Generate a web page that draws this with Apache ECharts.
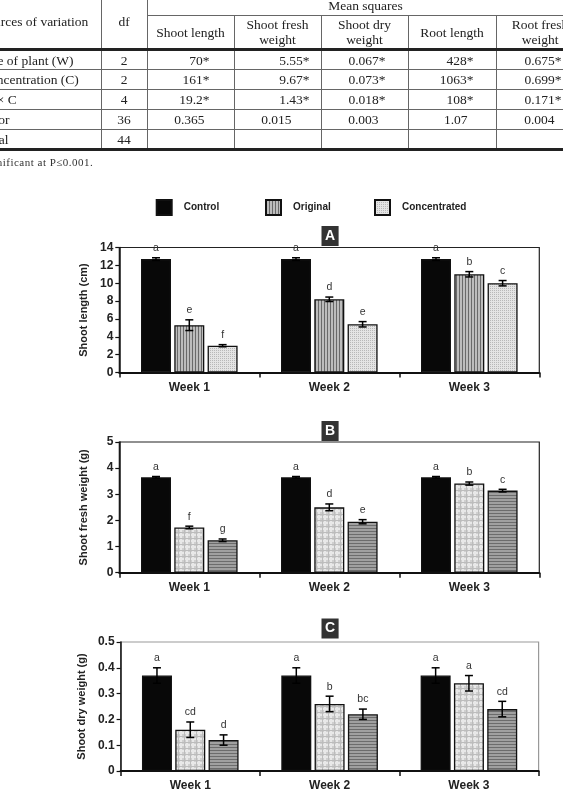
<!DOCTYPE html>
<html><head><meta charset="utf-8">
<script src="https://cdn.jsdelivr.net/npm/echarts@6/dist/echarts.min.js"></script>
<style>
html,body{margin:0;padding:0;background:#fff;width:563px;height:799px;overflow:hidden;position:relative;}
#chart{position:absolute;left:0;top:0;width:563px;height:799px;}
#tbl{position:absolute;left:-33.5px;top:-6px;width:617px;border-collapse:collapse;table-layout:fixed;font-family:"Liberation Serif","DejaVu Serif",serif;font-size:13.5px;color:#222;line-height:15px;}
#tbl td,#tbl th{border:1px solid #666;padding:0;font-weight:normal;overflow:hidden;white-space:nowrap;}
#tbl th{text-align:center;}
#tbl .hb{border-bottom:3px solid #222;}
#tbl tr.last td{border-bottom:3px solid #222;}
#tbl td.src{text-align:left;padding-left:13.5px;}
#tbl td.df{text-align:center;}
#tbl td.num{text-align:right;}
#note{position:absolute;left:-25.5px;top:156px;font-family:"Liberation Serif","DejaVu Serif",serif;font-size:11px;letter-spacing:0.5px;color:#333;white-space:nowrap;}
</style>
</head><body>
<div id="chart"></div>
<table id="tbl"></table>
<div id="note">*Significant at P≤0.001.</div>
<script>
// ---------- table data ----------
var tblSources = ["Age of plant (W)", "Concentration (C)", "W × C", "Error", "Total"];
var tblDf = ["2", "2", "4", "36", "44"];
var tblShootLength = ["70*", "161*", "19.2*", "0.365", ""];
var tblShootFresh = ["5.55*", "9.67*", "1.43*", "0.015", ""];
var tblShootDry = ["0.067*", "0.073*", "0.018*", "0.003", ""];
var tblRootLength = ["428*", "1063*", "108*", "1.07", ""];
var tblRootFresh = ["0.675*", "0.699*", "0.171*", "0.004", ""];
var tblHeaders = ["Shoot length", "Shoot fresh<br>weight", "Shoot dry<br>weight", "Root length", "Root fresh<br>weight"];

// ---------- chart data ----------
var categories = ["Week 1", "Week 2", "Week 3"];
var seriesNames = ["Control", "Original", "Concentrated"];

var lenControl = [12.7, 12.7, 12.7];
var lenOriginal = [5.3, 8.2, 11.0];
var lenConc = [3.0, 5.4, 10.0];
var lenErrControl = [0.15, 0.15, 0.15];
var lenErrOriginal = [0.6, 0.25, 0.3];
var lenErrConc = [0.12, 0.3, 0.3];
var lenLetters = [["a","a","a"],["e","d","b"],["f","e","c"]];

var freshControl = [3.65, 3.65, 3.65];
var freshOriginal = [1.73, 2.5, 3.41];
var freshConc = [1.24, 1.95, 3.14];
var freshErrControl = [0.03, 0.03, 0.03];
var freshErrOriginal = [0.05, 0.13, 0.06];
var freshErrConc = [0.05, 0.08, 0.05];
var freshLetters = [["a","a","a"],["f","d","b"],["g","e","c"]];

var dryControl = [0.37, 0.37, 0.37];
var dryOriginal = [0.16, 0.26, 0.34];
var dryConc = [0.12, 0.22, 0.24];
var dryErrControl = [0.03, 0.03, 0.03];
var dryErrOriginal = [0.03, 0.03, 0.03];
var dryErrConc = [0.02, 0.02, 0.03];
var dryLetters = [["a","a","a"],["cd","b","a"],["d","bc","cd"]];

// ---------- build table ----------
(function(){
  var widths=[134,46,87,87,87,88,88];
  var h='<colgroup>'+widths.map(function(w){return '<col style="width:'+w+'px">';}).join('')+'</colgroup>';
  h+='<tr style="height:21px"><th rowspan="2" class="hb">Sources of variation</th><th rowspan="2" class="hb">df</th><th colspan="5">Mean squares</th></tr>';
  h+='<tr style="height:34px">'+tblHeaders.map(function(t){return '<th class="hb">'+t+'</th>';}).join('')+'</tr>';
  var cols=[tblShootLength,tblShootFresh,tblShootDry,tblRootLength,tblRootFresh];
  var padStar=[24,11,22,22,22];
  var padPlain=[29,29,29,28,29];
  for(var r=0;r<tblSources.length;r++){
    h+='<tr style="height:20px"'+(r===tblSources.length-1?' class="last"':'')+'><td class="src">'+tblSources[r]+'</td><td class="df">'+tblDf[r]+'</td>';
    for(var c=0;c<cols.length;c++){
      var v=cols[c][r]; var p=v.indexOf('*')>=0?padStar[c]:padPlain[c];
      h+='<td class="num" style="padding-right:'+p+'px">'+v+'</td>';
    }
    h+='</tr>';
  }
  document.getElementById('tbl').innerHTML=h;
})();

// ---------- patterns ----------
function mk(w,h,draw){var c=document.createElement('canvas');c.width=w;c.height=h;draw(c.getContext('2d'));return c;}
var patVStripe=mk(3,3,function(g){g.fillStyle='#bdbdbd';g.fillRect(0,0,3,3);g.fillStyle='#6a6a6a';g.fillRect(0,0,1,3);});
var patDots=mk(2,2,function(g){g.fillStyle='#e4e4e4';g.fillRect(0,0,2,2);g.fillStyle='#b8b8b8';g.fillRect(0,0,1,1);});
var patPlaid=mk(6,6,function(g){g.fillStyle='#cfcfcf';g.fillRect(0,0,6,6);g.fillStyle='#e8e8e8';g.fillRect(0,0,2,6);g.fillRect(0,0,6,2);g.fillStyle='#bcbcbc';g.fillRect(4,0,1,6);g.fillRect(0,4,6,1);});
var patHStripe=mk(3,3,function(g){g.fillStyle='#a0a0a0';g.fillRect(0,0,3,3);g.fillStyle='#6c6c6c';g.fillRect(0,0,3,1);});
function pat(c){return {image:c,repeat:'repeat'};}

var BW=30, BG=3.3;
var FONT='"Liberation Sans", Arial, sans-serif';
var grids=[
  {left:119.3, top:247.5, width:420, height:125, borderColor:'#222'},
  {left:119.3, top:442, width:420, height:130.7, borderColor:'#222'},
  {left:120.6, top:642, width:418, height:129, borderColor:'#999'}
];
var panels=[
  {name:'Shoot length (cm)', max:14, interval:2, vals:[lenControl,lenOriginal,lenConc], errs:[lenErrControl,lenErrOriginal,lenErrConc], letters:lenLetters, pats:['#080808',pat(patVStripe),pat(patDots)], title:'A', titleTop:226},
  {name:'Shoot fresh weight (g)', max:5, interval:1, vals:[freshControl,freshOriginal,freshConc], errs:[freshErrControl,freshErrOriginal,freshErrConc], letters:freshLetters, pats:['#080808',pat(patPlaid),pat(patHStripe)], title:'B', titleTop:421},
  {name:'Shoot dry weight (g)', max:0.5, interval:0.1, vals:[dryControl,dryOriginal,dryConc], errs:[dryErrControl,dryErrOriginal,dryErrConc], letters:dryLetters, pats:['#080808',pat(patPlaid),pat(patHStripe)], title:'C', titleTop:618.5}
];

var option={animation:false,backgroundColor:'transparent',grid:[],xAxis:[],yAxis:[],series:[],title:[],legend:[]};
panels.forEach(function(p,gi){
  var gd=grids[gi];
  option.grid.push({left:gd.left,top:gd.top,width:gd.width,height:gd.height,show:true,borderColor:gd.borderColor,borderWidth:1.2,backgroundColor:'transparent'});
  option.xAxis.push({type:'category',gridIndex:gi,data:categories,
    axisLine:{show:true,lineStyle:{color:'#111',width:2}},
    axisTick:{show:true,length:5,lineStyle:{color:'#111',width:1.5}},
    axisLabel:{fontFamily:FONT,fontWeight:'bold',fontSize:12,color:'#222',margin:9},
    splitLine:{show:false}});
  option.yAxis.push({type:'value',gridIndex:gi,min:0,max:p.max,interval:p.interval,
    name:p.name,nameLocation:'middle',nameGap:30,nameTextStyle:{fontFamily:FONT,fontWeight:'bold',fontSize:11,color:'#222'},
    axisLine:{show:true,lineStyle:{color:'#111',width:1.5}},
    axisTick:{show:true,length:4,lineStyle:{color:'#111',width:1.2}},
    axisLabel:{fontFamily:FONT,fontWeight:'bold',fontSize:12,color:'#222',margin:6},
    splitLine:{show:false}});
  for(var s=0;s<3;s++){
    option.series.push({type:'bar',name:seriesNames[s],xAxisIndex:gi,yAxisIndex:gi,data:p.vals[s],barWidth:BW,barGap:'11%',
      itemStyle:{color:p.pats[s],borderColor:'#111',borderWidth:1.3}});
  }
  var edata=[];
  for(var s2=0;s2<3;s2++)for(var c=0;c<3;c++)edata.push([c,s2,p.vals[s2][c],p.errs[s2][c],p.letters[s2][c]]);
  option.series.push({type:'custom',xAxisIndex:gi,yAxisIndex:gi,data:edata,encode:{x:0,y:2},z:10,silent:true,
    renderItem:(function(ed){return function(params,api){
      var d=ed[params.dataIndex];
      var top=api.coord([d[0],d[2]+d[3]]), bot=api.coord([d[0],d[2]-d[3]]);
      var x=top[0]+(d[1]-1)*(BW+BG), cap=4;
      var st={stroke:'#000',lineWidth:1.5};
      return {type:'group',children:[
        {type:'line',shape:{x1:x,y1:top[1],x2:x,y2:bot[1]},style:st},
        {type:'line',shape:{x1:x-cap,y1:top[1],x2:x+cap,y2:top[1]},style:st},
        {type:'line',shape:{x1:x-cap,y1:bot[1],x2:x+cap,y2:bot[1]},style:st},
        {type:'text',x:x,y:top[1]-4,style:{text:d[4],align:'center',verticalAlign:'bottom',fill:'#333',fontSize:10.5,fontFamily:FONT}}
      ]};
    };})(edata)});
  option.title.push({text:p.title,left:321.5,top:p.titleTop,backgroundColor:'#333',padding:[3,3.5,3,3.5],
    textStyle:{color:'#fff',fontSize:14,fontWeight:'bold',fontFamily:FONT,lineHeight:14}});
});
var legPos=[150.7,260,369];
seriesNames.forEach(function(n,i){
  option.legend.push({data:[{name:n,icon:'rect'}],left:legPos[i],top:194,itemWidth:15,itemHeight:15,selectedMode:false,
    textStyle:{fontFamily:FONT,fontWeight:'bold',fontSize:10,color:'#222',padding:[0,0,0,7]}});
});
var chart=echarts.init(document.getElementById('chart'),null,{renderer:'canvas'});
chart.setOption(option);
</script>
</body></html>
